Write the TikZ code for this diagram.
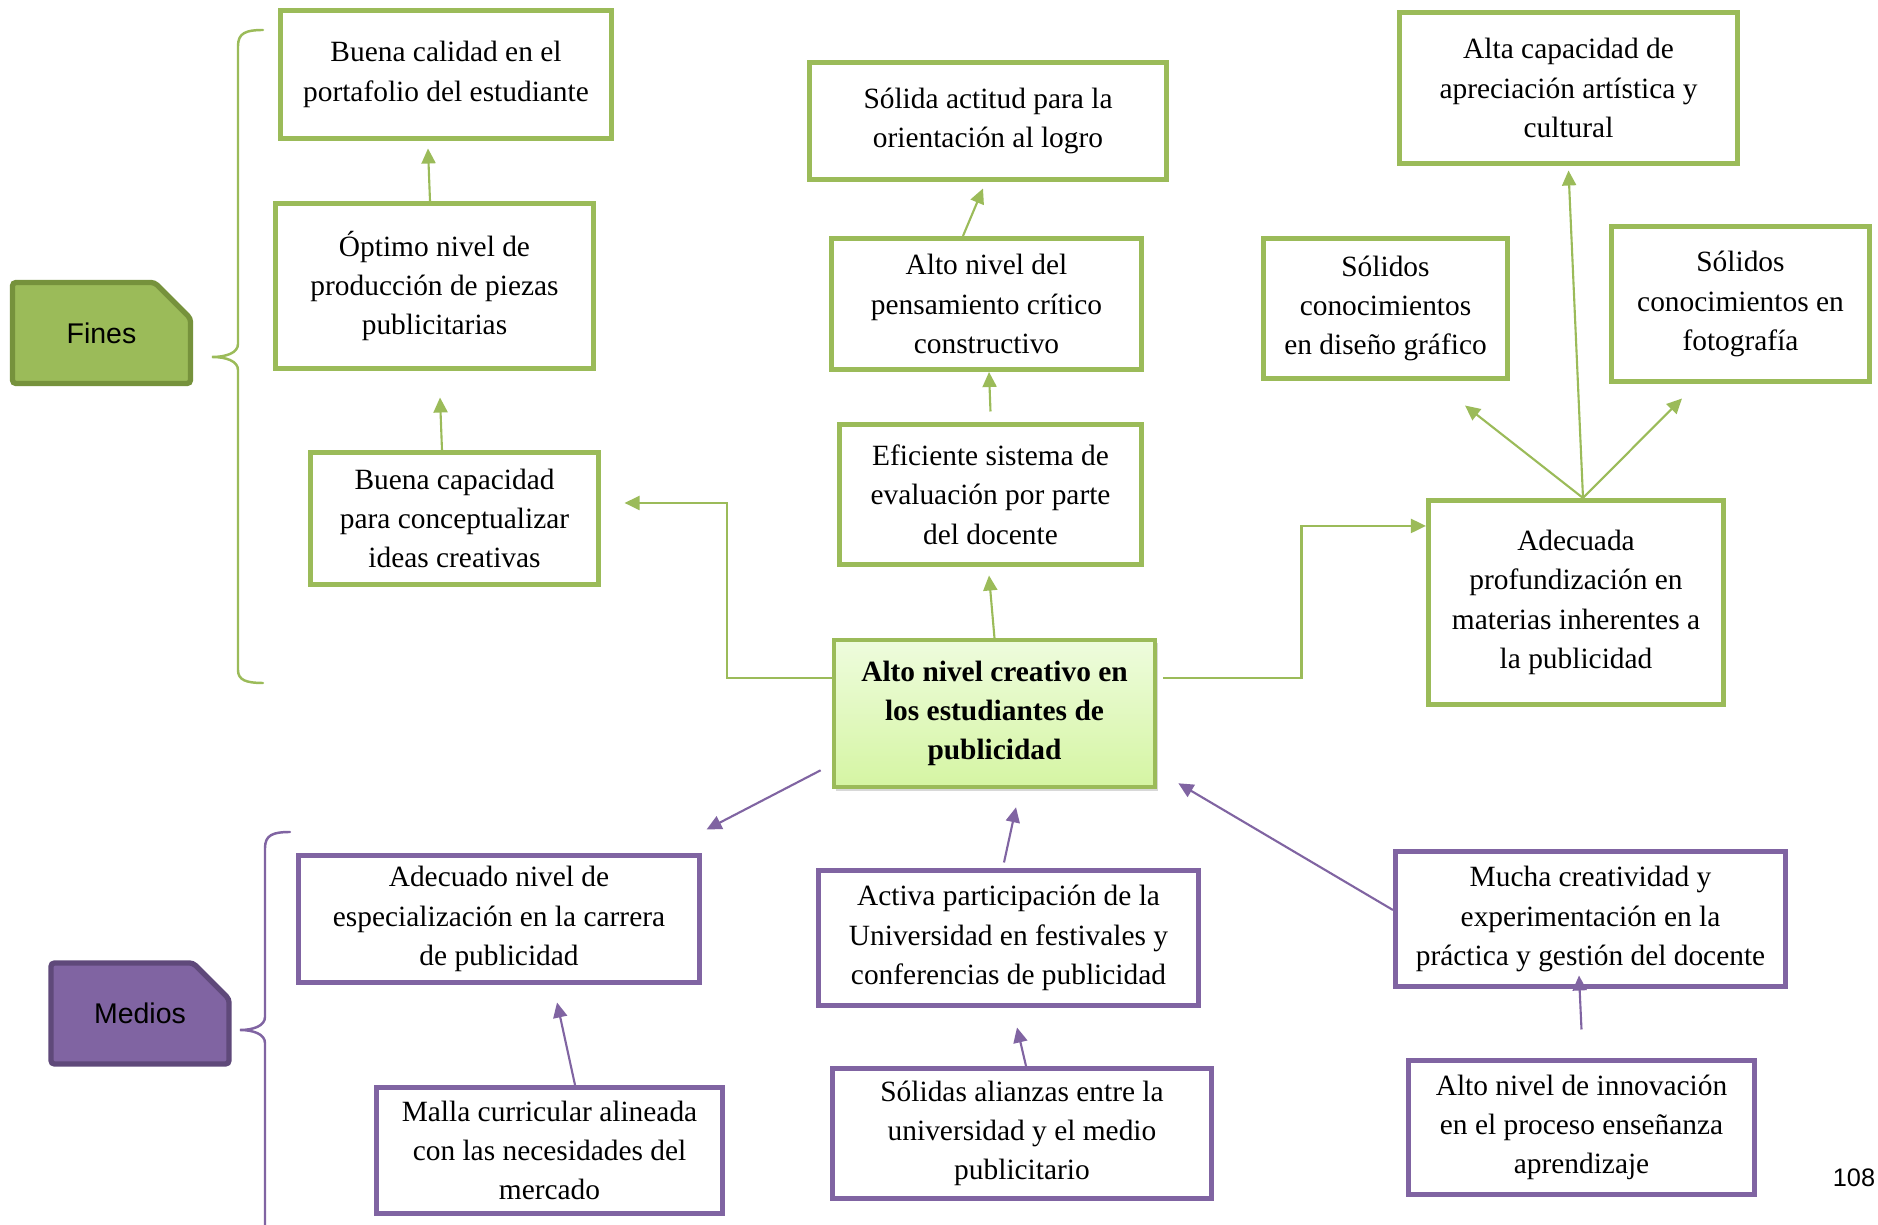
\documentclass[tikz,border=0pt]{standalone}
\usepackage{fontspec}
\setmainfont{Liberation Serif}
\setsansfont{Liberation Sans}
\usetikzlibrary{arrows.meta,shapes.misc,shadows}
\definecolor{fgreen}{HTML}{9BBB59}
\definecolor{dgreen}{HTML}{76923C}
\definecolor{fpurple}{HTML}{8064A2}
\definecolor{dpurple}{HTML}{5F497A}
\definecolor{ltop}{HTML}{EEFCDD}
\definecolor{lbot}{HTML}{D5F5A3}
\tikzset{mybox/.style={rectangle,draw,line width=1.4pt,align=center,inner sep=2pt,
font=\fontsize{8.36}{11.2}\selectfont},
gbox/.style={mybox,draw=fgreen},
pbox/.style={mybox,draw=fpurple},
tagbox/.style={chamfered rectangle,chamfered rectangle corners=north east,
chamfered rectangle xsep=0.18cm,chamfered rectangle ysep=0.18cm,rounded corners=1pt,
line width=1.5pt,font=\sffamily\fontsize{8.1}{9.7}\selectfont,
minimum width=1.78cm,minimum height=1.01cm},
garrow/.style={draw=fgreen,line width=0.6pt,-{Triangle[length=0.15cm,width=0.14cm]}},
parrow/.style={draw=fpurple,line width=0.6pt,-{Triangle[length=0.15cm,width=0.14cm]}},
brace/.style={line width=0.7pt,line cap=round}}
\newcommand{\Link}[3][garrow]{\draw[#1] (#2) -- (#3);
}

\begin{document}
\begin{tikzpicture}[x=0.01cm,y=-0.01cm]
    \path[use as bounding box,fill=white] (0,0) rectangle (1878,1225);
    % tags
    \node[tagbox,draw=dgreen,fill=fgreen] (fines) at (101.5,333) {Fines};
    \node[tagbox,draw=dpurple,fill=fpurple] (medios) at (140,1013.5) {Medios};
    \draw[brace,fgreen] (263,30) .. controls (246,30) and (238,33) .. (238,46) -- (238,344)
      .. controls (238,353) and (226,357) .. (212,357) .. controls (226,357) and (238,361) .. (238,370)
      -- (238,670) .. controls (238,680) and (246,683) .. (263,683);
    \draw[brace,fpurple] (290,832) .. controls (273,832) and (265,835) .. (265,848) -- (265,1017)
      .. controls (265,1026) and (253,1030) .. (240,1030) .. controls (253,1030) and (265,1034) .. (265,1043)
      -- (265,1225);
    % center
    \node[mybox,draw=fgreen,line width=1pt,top color=ltop,bottom color=lbot,
      drop shadow={shadow xshift=0.7pt,shadow yshift=-1pt,opacity=0.3},
      minimum width=3.21cm,minimum height=1.47cm,font=\bfseries\fontsize{8.36}{11.2}\selectfont]
      (central) at (994.5,713.5) {Alto nivel creativo en\\los estudiantes de\\publicidad};
    % fines
    \node[gbox,minimum width=3.31cm,minimum height=1.28cm] (calidad) at (446,74.5)
      {Buena calidad en el\\portafolio del estudiante};
    \node[gbox,minimum width=3.18cm,minimum height=1.65cm] (optimo) at (434.5,286)
      {Óptimo nivel de\\producción de piezas\\publicitarias};
    \node[gbox,minimum width=2.88cm,minimum height=1.32cm] (capacidad) at (454.5,518.5)
      {Buena capacidad\\para conceptualizar\\ideas creativas};
    \node[gbox,minimum width=3.57cm,minimum height=1.17cm] (actitud) at (988,121)
      {Sólida actitud para la\\orientación al logro};
    \node[gbox,minimum width=3.10cm,minimum height=1.31cm] (pensamiento) at (986.5,304)
      {Alto nivel del\\pensamiento crítico\\constructivo};
    \node[gbox,minimum width=3.02cm,minimum height=1.40cm] (evaluacion) at (990.5,494.5)
      {Eficiente sistema de\\evaluación por parte\\del docente};
    \node[gbox,minimum width=3.38cm,minimum height=1.51cm] (apreciacion) at (1568.5,88)
      {Alta capacidad de\\apreciación artística y\\cultural};
    \node[gbox,minimum width=2.44cm,minimum height=1.40cm] (diseno) at (1385.5,308.5)
      {Sólidos\\conocimientos\\en diseño gráfico};
    \node[gbox,minimum width=2.58cm,minimum height=1.55cm] (fotografia) at (1740.5,304)
      {Sólidos\\conocimientos en\\fotografía};
    \node[gbox,minimum width=2.95cm,minimum height=2.04cm] (profund) at (1576,602.5)
      {Adecuada\\profundización en\\materias inherentes a\\la publicidad};
    % medios
    \node[pbox,minimum width=4.01cm,minimum height=1.27cm] (especial) at (499,919)
      {Adecuado nivel de\\especialización en la carrera\\de publicidad};
    \node[pbox,minimum width=3.80cm,minimum height=1.35cm] (activa) at (1008.5,938)
      {Activa participación de la\\Universidad en festivales y\\conferencias de publicidad};
    \node[pbox,minimum width=3.90cm,minimum height=1.35cm] (mucha) at (1590.5,919)
      {Mucha creatividad y\\experimentación en la\\práctica y gestión del docente};
    \node[pbox,minimum width=3.46cm,minimum height=1.26cm] (malla) at (549.5,1150.5)
      {Malla curricular alineada\\con las necesidades del\\mercado};
    \node[pbox,minimum width=3.79cm,minimum height=1.30cm] (alianzas) at (1022,1133.5)
      {Sólidas alianzas entre la\\universidad y el medio\\publicitario};
    \node[pbox,minimum width=3.46cm,minimum height=1.34cm] (innovacion) at (1581.5,1127.5)
      {Alto nivel de innovación\\en el proceso enseñanza\\aprendizaje};
    \node[font=\sffamily\fontsize{7.2}{8.6}\selectfont] (pagina) at (1854,1178) {108};
    % links
    \Link{[xshift=-0.045cm]optimo.north}{[xshift=-0.18cm,yshift=-0.075cm]calidad.south}
    \Link{[xshift=-0.125cm]capacidad.north}{[xshift=0.055cm,yshift=-0.265cm]optimo.south}
    \Link{central.north}{[xshift=-0.015cm,yshift=-0.085cm]evaluacion.south}
    \Link{[yshift=0.105cm]evaluacion.north}{[xshift=0.025cm]pensamiento.south}
    \Link{[xshift=-0.235cm]pensamiento.north}{[xshift=-0.05cm,yshift=-0.065cm]actitud.south}
    \draw[garrow] ([yshift=0.355cm]central.west) -- ++(-1.05cm,0)
      |- ([xshift=0.235cm,yshift=0.155cm]capacidad.east);
    \draw[garrow] ([xshift=0.065cm,yshift=0.355cm]central.east) -- ++(1.38cm,0)
      |- ([yshift=0.765cm]profund.west);
    \Link{[xshift=0.07cm]profund.north}{[yshift=-0.045cm]apreciacion.south}
    \Link{[xshift=0.07cm]profund.north}{[xshift=0.795cm,yshift=-0.245cm]diseno.south}
    \Link{[xshift=0.07cm]profund.north}{[xshift=-0.585cm,yshift=-0.145cm]fotografia.south}
    \Link[parrow]{[xshift=-0.115cm,yshift=0.185cm]central.south west}{[xshift=0.045cm,yshift=0.235cm]especial.north east}
    \Link[parrow]{[xshift=-0.045cm,yshift=0.055cm]activa.north}{[xshift=0.215cm,yshift=-0.185cm]central.south}
    \Link[parrow]{[yshift=0.09cm]mucha.west}{[xshift=0.215cm,yshift=0.055cm]central.south east}
    \Link[parrow]{[xshift=0.255cm]malla.north}{[xshift=0.58cm,yshift=-0.175cm]especial.south}
    \Link[parrow]{[xshift=0.04cm]alianzas.north}{[xshift=0.085cm,yshift=-0.195cm]activa.south}
    \Link[parrow]{[yshift=0.285cm]innovacion.north}{[xshift=-0.115cm,yshift=0.135cm]mucha.south}
\end{tikzpicture}
\end{document}
